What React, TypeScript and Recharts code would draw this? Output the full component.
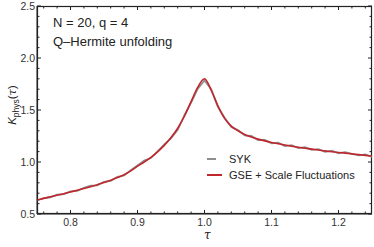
import { LineChart, Line, XAxis, YAxis } from 'recharts';

// tau grid (category values along x)
const tau = [
  0.75, 0.76, 0.77, 0.78, 0.79, 0.8, 0.81, 0.82, 0.83, 0.84, 0.85, 0.86, 0.87, 0.88, 0.89,
  0.9, 0.91, 0.92, 0.93, 0.94, 0.95, 0.96, 0.97, 0.98, 0.99, 1.0, 1.01, 1.02, 1.03, 1.04,
  1.05, 1.06, 1.07, 1.08, 1.09, 1.1, 1.11, 1.12, 1.13, 1.14, 1.15, 1.16, 1.17, 1.18, 1.19,
  1.2, 1.21, 1.22, 1.23, 1.24, 1.25,
];

// SYK (noisy, gray)
const syk = [
  0.63, 0.653, 0.661, 0.686, 0.691, 0.717, 0.722, 0.752, 0.772, 0.776, 0.81, 0.818, 0.858, 0.87, 0.92,
  0.967, 1.014, 1.038, 1.102, 1.17, 1.226, 1.31, 1.45, 1.572, 1.705, 1.785, 1.7, 1.53, 1.425, 1.336,
  1.307, 1.256, 1.25, 1.21, 1.212, 1.18, 1.185, 1.153, 1.162, 1.134, 1.142, 1.116, 1.124, 1.098, 1.108,
  1.084, 1.094, 1.078, 1.064, 1.072, 1.05,
];

// GSE + scale fluctuations (smooth, red)
const gse = [
  0.635, 0.65, 0.665, 0.68, 0.695, 0.712, 0.728, 0.745, 0.763, 0.782, 0.802, 0.825, 0.85, 0.878, 0.915,
  0.96, 1.0, 1.045, 1.098, 1.16, 1.235, 1.325, 1.44, 1.58, 1.72, 1.8, 1.69, 1.54, 1.42, 1.345,
  1.3, 1.265, 1.24, 1.22, 1.203, 1.188, 1.175, 1.163, 1.152, 1.142, 1.133, 1.124, 1.115, 1.107, 1.099,
  1.092, 1.085, 1.078, 1.071, 1.064, 1.057,
];

const xMajor = [0.8, 0.9, 1.0, 1.1, 1.2];
const xMinor = [0.76, 0.78, 0.82, 0.84, 0.86, 0.88, 0.92, 0.94, 0.96, 0.98, 1.02, 1.04, 1.06, 1.08, 1.12, 1.14, 1.16, 1.18, 1.22, 1.24];
const yMajor = [0.5, 1.0, 1.5, 2.0, 2.5];
const yMinor = [0.6, 0.7, 0.8, 0.9, 1.1, 1.2, 1.3, 1.4, 1.6, 1.7, 1.8, 1.9, 2.1, 2.2, 2.3, 2.4];

const FONT = '"Liberation Sans", Arial, sans-serif';
const RED = '#c0272d';
const GRAY = '#8e8e8e';
const FRAME = '#222';

// plot box size (chart 374x247, margins + axis sizes below)
const PLOT_W = 335;
const PLOT_H = 208;

const isMajor = (v: number, majors: number[]) => majors.some(m => Math.abs(m - v) < 1e-6);

const data = tau.map((t, i) => ({ tau: t, syk: syk[i], gse: gse[i] }));

// bottom tick + mirrored tick on the top edge of the frame
const BottomTick = ({ x, y, payload }: any) => {
  const major = isMajor(payload.value, xMajor);
  const len = major ? 4 : 2.5;
  return (
    <g>
      <line x1={x} x2={x} y1={y} y2={y - len} stroke={FRAME} strokeWidth={1} />
      <line x1={x} x2={x} y1={y - PLOT_H} y2={y - PLOT_H + len} stroke={FRAME} strokeWidth={1} />
      {major && (
        <text x={x} y={y + 12} textAnchor="middle" fontSize={10.5} fontFamily={FONT} fill="#333">
          {payload.value.toFixed(1)}
        </text>
      )}
    </g>
  );
};

// left tick + mirrored tick on the right edge
const LeftTick = ({ x, y, payload }: any) => {
  const major = isMajor(payload.value, yMajor);
  const len = major ? 4 : 2.5;
  return (
    <g>
      <line x1={x} x2={x + len} y1={y} y2={y} stroke={FRAME} strokeWidth={1} />
      <line x1={x + PLOT_W} x2={x + PLOT_W - len} y1={y} y2={y} stroke={FRAME} strokeWidth={1} />
      {major && (
        <text x={x - 2} y={y + 4} textAnchor="end" fontSize={10.5} fontFamily={FONT} fill="#333">
          {payload.value.toFixed(1)}
        </text>
      )}
    </g>
  );
};

const YLabel = () => (
  <text transform="translate(16, 105) rotate(-90)" textAnchor="middle" fontFamily={FONT} fontSize={11.5} fill="#222">
    <tspan fontStyle="italic">K</tspan>
    <tspan fontSize={8.5} dy={3}>phys</tspan>
    <tspan dy={-3}>(</tspan>
    <tspan fontStyle="italic" fontFamily="'DejaVu Serif', serif">τ</tspan>
    <tspan>)</tspan>
  </text>
);

const LegendBox = () => (
  <svg width={170} height={34} style={{ position: 'absolute', left: 206, top: 151 }}>
    <line x1={1} x2={10} y1={8} y2={8} stroke={GRAY} strokeWidth={2} />
    <text x={23} y={12} fontFamily={FONT} fontSize={11} fill="#222">SYK</text>
    <line x1={1} x2={16} y1={24} y2={24} stroke={RED} strokeWidth={2} />
    <text x={23} y={28} fontFamily={FONT} fontSize={11} fill="#222">GSE + Scale Fluctuations</text>
  </svg>
);

export default function App() {
  return (
    <div style={{ position: 'absolute', left: 0, top: 0, width: 374, height: 247, background: '#fff' }}>
      {/* plot frame, underneath the chart */}
      <svg width={374} height={247} style={{ position: 'absolute', left: 0, top: 0 }}>
        <rect x={37.5} y={6.5} width={PLOT_W - 1} height={PLOT_H - 1} fill="none" stroke={FRAME} strokeWidth={1.2} />
      </svg>
      <div style={{ position: 'absolute', left: 0, top: 0 }}>
        <LineChart width={374} height={247} data={data} margin={{ top: 6, right: 2, left: 0, bottom: 0 }}>
          <XAxis
            dataKey="tau"
            type="number"
            domain={[0.75, 1.25]}
            ticks={[...xMajor, ...xMinor]}
            height={33}
            tickSize={0}
            tickMargin={0}
            tickLine={false}
            axisLine={{ stroke: FRAME, strokeWidth: 1 }}
            tick={<BottomTick />}
            interval={0}
          />
          <YAxis
            type="number"
            domain={[0.5, 2.5]}
            ticks={[...yMajor, ...yMinor]}
            width={37}
            tickSize={0}
            tickMargin={0}
            tickLine={false}
            axisLine={{ stroke: FRAME, strokeWidth: 1 }}
            tick={<LeftTick />}
            interval={0}
            label={<YLabel />}
          />
          <Line dataKey="syk" name="SYK" stroke={GRAY} strokeWidth={1.8} dot={false} type="linear" isAnimationActive={false} />
          <Line dataKey="gse" name="GSE + Scale Fluctuations" stroke={RED} strokeWidth={1.6} dot={false} type="monotone" isAnimationActive={false} />
        </LineChart>
      </div>
      <LegendBox />
      <div style={{ position: 'absolute', left: 53, top: 13, fontFamily: FONT, fontSize: 13, color: '#222', lineHeight: '19px' }}>
        <div>N = 20, q = 4</div>
        <div>Q–Hermite unfolding</div>
      </div>
      <div style={{ position: 'absolute', left: 204, top: 229, fontFamily: "'DejaVu Serif', serif", fontStyle: 'italic', fontSize: 12, lineHeight: '12px', color: '#222' }}>
        τ
      </div>
    </div>
  );
}
